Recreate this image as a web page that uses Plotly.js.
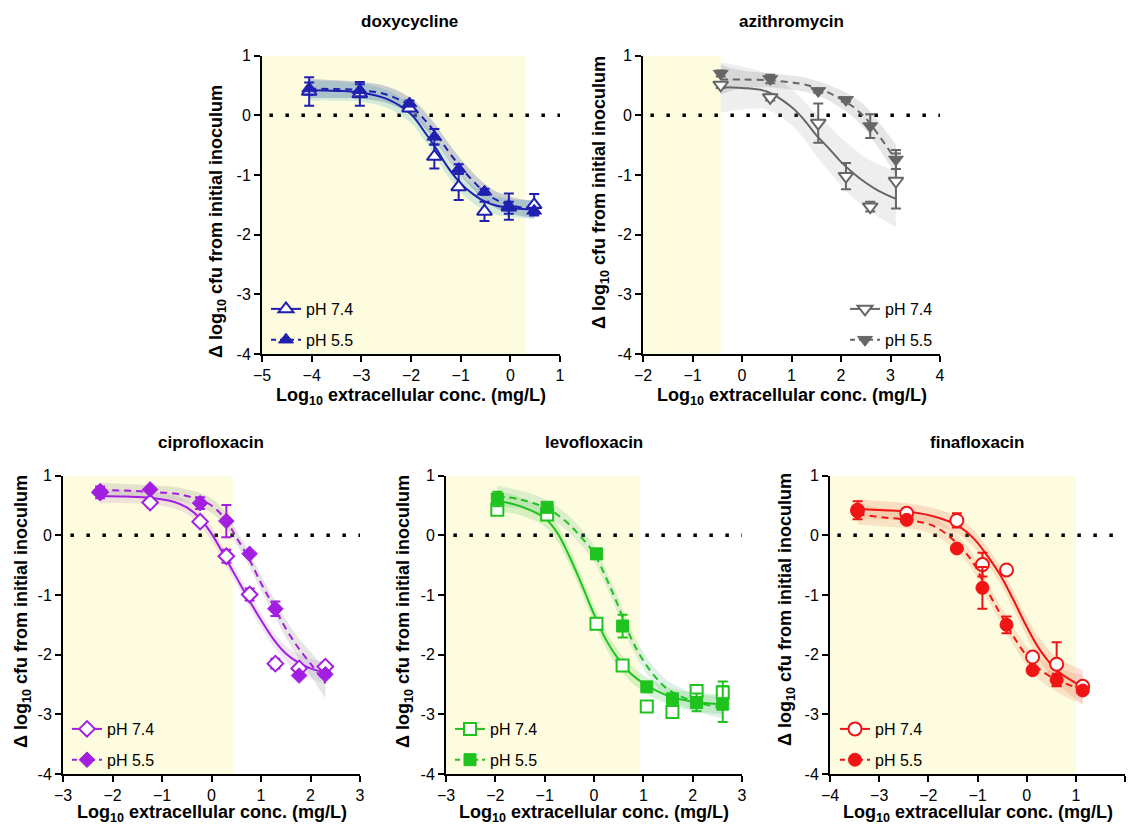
<!DOCTYPE html>
<html>
<head>
<meta charset="utf-8">
<script src="https://cdn.plot.ly/plotly-3.0.1.min.js"></script>
<style>html,body{margin:0;padding:0;background:#fff;}#chart{width:1129px;height:827px;}</style>
</head>
<body>
<div id="chart"></div>
<script>
// ---------------- DATA ----------------
const drugNames = ["doxycycline", "azithromycin", "ciprofloxacin", "levofloxacin", "finafloxacin"];
const seriesNames = ["pH 7.4", "pH 5.5"];

// doxycycline
const doxyConc  = [-4.05, -3.03, -2.03, -1.53, -1.04, -0.52, -0.03, 0.48];
const doxy74    = [0.40, 0.36, 0.12, -0.69, -1.20, -1.61, -1.53, -1.50];
const doxy74Err = [0.24, 0.20, 0.05, 0.20, 0.22, 0.16, 0.22, 0.18];
const doxy55    = [0.45, 0.42, 0.20, -0.36, -0.90, -1.28, -1.55, -1.60];
const doxy55Err = [0.10, 0.10, 0.05, 0.13, 0.08, 0.05, 0.10, 0.05];
const doxyFitX  = [-4.05, -3.5, -3.0, -2.5, -2.0, -1.75, -1.5, -1.25, -1.0, -0.75, -0.5, -0.25, 0, 0.25, 0.48];
const doxyFit74 = [0.42, 0.41, 0.38, 0.28, 0.02, -0.25, -0.55, -0.88, -1.14, -1.32, -1.45, -1.52, -1.55, -1.57, -1.58];
const doxyFit55 = [0.45, 0.44, 0.42, 0.35, 0.15, -0.05, -0.30, -0.60, -0.87, -1.10, -1.30, -1.43, -1.50, -1.55, -1.57];
const doxyCI74  = [0.17, 0.16, 0.15, 0.15, 0.15, 0.15, 0.15, 0.15, 0.15, 0.15, 0.15, 0.15, 0.15, 0.15, 0.16];
const doxyCI55  = [0.16, 0.15, 0.14, 0.14, 0.14, 0.14, 0.14, 0.14, 0.14, 0.14, 0.14, 0.14, 0.14, 0.14, 0.15];

// azithromycin
const aziConc  = [-0.43, 0.57, 1.54, 2.10, 2.59, 3.11];
const azi74    = [0.51, 0.30, -0.13, -1.02, -1.53, -1.10];
const azi74Err = [0.05, 0.05, 0.33, 0.22, 0.08, 0.46];
const azi55    = [0.70, 0.61, 0.41, 0.26, -0.18, -0.74];
const azi55Err = [0.05, 0.07, 0.03, 0.03, 0.20, 0.16];
const aziFitX  = [-0.43, 0, 0.5, 1.0, 1.25, 1.5, 1.75, 2.0, 2.25, 2.5, 2.75, 3.11];
const aziFit74 = [0.47, 0.46, 0.40, 0.14, -0.07, -0.33, -0.55, -0.78, -0.97, -1.13, -1.26, -1.40];
const aziFit55 = [0.60, 0.60, 0.59, 0.55, 0.52, 0.46, 0.38, 0.27, 0.14, -0.05, -0.32, -0.75];
const aziCI74  = [0.42, 0.36, 0.30, 0.30, 0.32, 0.35, 0.38, 0.40, 0.42, 0.42, 0.44, 0.47];
const aziCI55  = [0.25, 0.15, 0.12, 0.12, 0.12, 0.12, 0.13, 0.15, 0.17, 0.20, 0.22, 0.26];

// ciprofloxacin
const ciproConc  = [-2.25, -1.24, -0.23, 0.30, 0.77, 1.29, 1.77, 2.30];
const cipro74    = [0.72, 0.55, 0.23, -0.35, -0.99, -2.15, -2.23, -2.20];
const cipro74Err = [0.10, 0.03, 0.03, 0.11, 0.10, 0.08, 0.05, 0.03];
const cipro55    = [0.74, 0.77, 0.54, 0.24, -0.31, -1.23, -2.35, -2.33];
const cipro55Err = [0.05, 0.03, 0.10, 0.27, 0.03, 0.12, 0.03, 0.05];
const ciproFitX  = [-2.25, -1.75, -1.24, -0.75, -0.5, -0.25, 0, 0.25, 0.5, 0.75, 1.0, 1.25, 1.5, 1.75, 2.0, 2.3];
const ciproFit74 = [0.66, 0.65, 0.63, 0.56, 0.47, 0.30, 0.03, -0.33, -0.70, -1.07, -1.42, -1.74, -1.98, -2.13, -2.23, -2.30];
const ciproFit55 = [0.76, 0.75, 0.73, 0.70, 0.66, 0.60, 0.50, 0.30, -0.03, -0.38, -0.80, -1.18, -1.56, -1.88, -2.15, -2.48];
const ciproCI74  = [0.12, 0.11, 0.11, 0.11, 0.11, 0.12, 0.12, 0.12, 0.12, 0.12, 0.12, 0.12, 0.13, 0.14, 0.16, 0.18];
const ciproCI55  = [0.12, 0.11, 0.11, 0.11, 0.11, 0.12, 0.12, 0.12, 0.12, 0.12, 0.13, 0.14, 0.15, 0.17, 0.20, 0.25];

// levofloxacin
const levoConc  = [-1.96, -0.95, 0.05, 0.58, 1.07, 1.59, 2.08, 2.61];
const levo74    = [0.43, 0.35, -1.48, -2.18, -2.87, -2.96, -2.61, -2.63];
const levo74Err = [0.05, 0.05, 0.03, 0.03, 0.03, 0.03, 0.10, 0.18];
const levo55    = [0.61, 0.47, -0.31, -1.52, -2.54, -2.74, -2.80, -2.83];
const levo55Err = [0.12, 0.05, 0.03, 0.19, 0.03, 0.05, 0.15, 0.30];
const levoFitX  = [-1.96, -1.5, -1.0, -0.75, -0.5, -0.25, 0, 0.25, 0.5, 0.75, 1.0, 1.25, 1.5, 2.0, 2.61];
const levoFit74 = [0.58, 0.49, 0.29, 0.05, -0.35, -0.82, -1.32, -1.76, -2.08, -2.32, -2.48, -2.60, -2.69, -2.79, -2.83];
const levoFit55 = [0.66, 0.60, 0.47, 0.35, 0.18, -0.04, -0.30, -0.72, -1.20, -1.72, -2.10, -2.38, -2.58, -2.78, -2.89];
const levoCI74  = [0.17, 0.15, 0.14, 0.14, 0.14, 0.14, 0.14, 0.14, 0.14, 0.14, 0.14, 0.14, 0.14, 0.15, 0.17];
const levoCI55  = [0.17, 0.15, 0.14, 0.14, 0.14, 0.14, 0.14, 0.14, 0.14, 0.14, 0.14, 0.14, 0.14, 0.15, 0.18];

// finafloxacin
const finaConc  = [-3.44, -2.44, -1.42, -0.90, -0.41, 0.12, 0.61, 1.14];
const fina74    = [0.42, 0.37, 0.25, -0.49, -0.58, -2.04, -2.16, -2.53];
const fina74Err = [0.15, 0.05, 0.12, 0.20, 0.03, 0.03, 0.37, 0.03];
const fina55    = [0.40, 0.26, -0.22, -0.88, -1.50, -2.26, -2.42, -2.60];
const fina55Err = [0.05, 0.03, 0.03, 0.35, 0.14, 0.03, 0.10, 0.03];
const finaFitX  = [-3.44, -2.9, -2.44, -1.9, -1.42, -1.08, -0.81, -0.54, -0.27, 0, 0.27, 0.61, 1.14];
const finaFit74 = [0.44, 0.42, 0.40, 0.32, 0.17, -0.05, -0.33, -0.66, -1.08, -1.53, -1.92, -2.26, -2.54];
const finaFit55 = [0.35, 0.30, 0.26, 0.16, -0.13, -0.47, -0.91, -1.31, -1.69, -2.02, -2.25, -2.42, -2.59];
const finaCI74  = [0.17, 0.15, 0.14, 0.14, 0.14, 0.14, 0.14, 0.14, 0.15, 0.16, 0.18, 0.22, 0.28];
const finaCI55  = [0.17, 0.15, 0.14, 0.14, 0.14, 0.14, 0.14, 0.14, 0.15, 0.16, 0.18, 0.20, 0.25];

// shaded (yellow) upper bound on each x axis
const shadeEnd = [0.31, -0.43, 0.43, 0.93, 1.0];
const yTicks = [-4, -3, -2, -1, 0, 1];

// ---------------- STYLE / LAYOUT ----------------
const W = 1129, H = 827;
const FONT = 'Arial, "Liberation Sans", sans-serif';
const px = v => v / W, py = v => 1 - v / H;

const panels = [
  {conc: doxyConc, y74: doxy74, e74: doxy74Err, y55: doxy55, e55: doxy55Err, fx: doxyFitX, f74: doxyFit74, f55: doxyFit55, c74: doxyCI74, c55: doxyCI55,
   color: '#1f1fb0', band74: 'rgba(120,200,205,0.32)', band55: 'rgba(80,100,170,0.30)', sym: 'triangle-up', msize: 13,
   xr: [-5, 1], dx: [262, 560], dy: [55.7, 354], leg: [266, 292], yt: [217, 222], title: [409, 22], xt: 397},
  {conc: aziConc, y74: azi74, e74: azi74Err, y55: azi55, e55: azi55Err, fx: aziFitX, f74: aziFit74, f55: aziFit55, c74: aziCI74, c55: aziCI55,
   color: '#666666', band74: 'rgba(160,160,160,0.18)', band55: 'rgba(140,140,140,0.22)', sym: 'triangle-down', msize: 13,
   xr: [-2, 4], dx: [643, 940], dy: [55.7, 354], leg: [845, 292], yt: [600, 193], title: [791, 22], xt: 397},
  {conc: ciproConc, y74: cipro74, e74: cipro74Err, y55: cipro55, e55: cipro55Err, fx: ciproFitX, f74: ciproFit74, f55: ciproFit55, c74: ciproCI74, c55: ciproCI55,
   color: '#a21ee0', band74: 'rgba(190,140,200,0.22)', band55: 'rgba(150,150,150,0.25)', sym: 'diamond', msize: 12,
   xr: [-3, 3], dx: [63, 360], dy: [475.7, 774], leg: [67, 712], yt: [22, 612], title: [211, 442], xt: 813},
  {conc: levoConc, y74: levo74, e74: levo74Err, y55: levo55, e55: levo55Err, fx: levoFitX, f74: levoFit74, f55: levoFit55, c74: levoCI74, c55: levoCI55,
   color: '#1ec31e', band74: 'rgba(60,200,60,0.20)', band55: 'rgba(110,190,140,0.22)', sym: 'square', msize: 12,
   xr: [-3, 3], dx: [446, 742], dy: [475.7, 774], leg: [450, 712], yt: [404, 612], title: [594, 442], xt: 813},
  {conc: finaConc, y74: fina74, e74: fina74Err, y55: fina55, e55: fina55Err, fx: finaFitX, f74: finaFit74, f55: finaFit55, c74: finaCI74, c55: finaCI55,
   color: '#f01414', band74: 'rgba(235,120,90,0.22)', band55: 'rgba(235,140,110,0.22)', sym: 'circle', msize: 13,
   xr: [-4, 2], dx: [830, 1125], dy: [475.7, 774], leg: [835, 712], yt: [786, 610], title: [977, 442], xt: 813}
];

const traces = [];
const layout = {
  width: W, height: H,
  margin: {l: 0, r: 0, t: 0, b: 0},
  paper_bgcolor: '#ffffff', plot_bgcolor: 'rgba(0,0,0,0)',
  font: {family: FONT, size: 16, color: '#000'},
  showlegend: true,
  shapes: [], annotations: []
};

panels.forEach((p, i) => {
  const n = i === 0 ? '' : String(i + 1);
  const xa = 'x' + n, ya = 'y' + n;
  const legName = 'legend' + n;
  const lw = 2;

  // confidence bands
  const addBand = (mid, ci, col) => {
    traces.push({x: p.fx, y: mid.map((v, k) => v - ci[k]), xaxis: xa, yaxis: ya, mode: 'lines',
      line: {width: 0, shape: 'spline', color: col}, showlegend: false, hoverinfo: 'skip'});
    traces.push({x: p.fx, y: mid.map((v, k) => v + ci[k]), xaxis: xa, yaxis: ya, mode: 'lines', fill: 'tonexty',
      fillcolor: col, line: {width: 0, shape: 'spline', color: col}, showlegend: false, hoverinfo: 'skip'});
  };
  addBand(p.f74, p.c74, p.band74);
  addBand(p.f55, p.c55, p.band55);

  // fitted curves
  traces.push({x: p.fx, y: p.f74, xaxis: xa, yaxis: ya, mode: 'lines',
    line: {color: p.color, width: lw, shape: 'spline'}, showlegend: false});
  traces.push({x: p.fx, y: p.f55, xaxis: xa, yaxis: ya, mode: 'lines',
    line: {color: p.color, width: lw, shape: 'spline', dash: '7px,5px'}, showlegend: false});

  // data points with error bars
  traces.push({x: p.conc, y: p.y74, xaxis: xa, yaxis: ya, mode: 'markers', showlegend: false,
    marker: {symbol: p.sym, size: p.msize, color: '#ffffff', line: {color: p.color, width: 2}},
    error_y: {type: 'data', array: p.e74, visible: true, color: p.color, thickness: 2, width: 5}});
  traces.push({x: p.conc, y: p.y55, xaxis: xa, yaxis: ya, mode: 'markers', showlegend: false,
    marker: {symbol: p.sym, size: p.msize, color: p.color, line: {color: p.color, width: 1}},
    error_y: {type: 'data', array: p.e55, visible: true, color: p.color, thickness: 2, width: 5}});

  // legend entries
  traces.push({x: [null], y: [null], xaxis: xa, yaxis: ya, mode: 'lines+markers', name: seriesNames[0],
    legend: legName, legendgroup: 'a' + i,
    line: {color: p.color, width: lw}, marker: {symbol: p.sym, size: p.msize, color: '#ffffff', line: {color: p.color, width: 2}}});
  traces.push({x: [null], y: [null], xaxis: xa, yaxis: ya, mode: 'lines+markers', name: seriesNames[1],
    legend: legName, legendgroup: 'b' + i,
    line: {color: p.color, width: lw, dash: '5px,4px'}, marker: {symbol: p.sym, size: p.msize, color: p.color, line: {color: p.color, width: 1}}});

  layout[legName] = {x: px(p.leg[0]), y: py(p.leg[1]), xanchor: 'left', yanchor: 'top',
    bgcolor: 'rgba(0,0,0,0)', borderwidth: 0, font: {family: FONT, size: 16, color: '#000'},
    traceorder: 'grouped', tracegroupgap: 7, itemclick: false};

  const axCommon = {showgrid: false, zeroline: false, showline: true, linecolor: '#000', linewidth: 2,
    ticks: 'outside', ticklen: 6, tickwidth: 2, tickcolor: '#000', tickfont: {family: FONT, size: 16, color: '#000'},
    fixedrange: true};
  layout['xaxis' + n] = Object.assign({}, axCommon, {domain: [px(p.dx[0]), px(p.dx[1])], range: p.xr,
    tickmode: 'linear', tick0: p.xr[0], dtick: 1, anchor: ya});
  layout['yaxis' + n] = Object.assign({}, axCommon, {domain: [py(p.dy[1]), py(p.dy[0])], range: [-4, 1],
    tickmode: 'array', tickvals: yTicks, ticktext: yTicks.map(String), anchor: xa});

  // yellow shaded region
  layout.shapes.push({type: 'rect', xref: xa, yref: ya, x0: p.xr[0], x1: shadeEnd[i], y0: -4, y1: 1,
    fillcolor: '#fdfcde', line: {width: 0}, layer: 'below'});
  // dotted zero line
  layout.shapes.push({type: 'line', xref: xa, yref: ya, x0: p.xr[0] + 0.15, x1: p.xr[1], y0: 0, y1: 0,
    line: {color: '#000', width: 3.5, dash: '3.5px,12.5px'}, layer: 'below'});

  // titles
  layout.annotations.push({xref: 'paper', yref: 'paper', x: px(p.title[0]), y: py(p.title[1]), xanchor: 'center', yanchor: 'middle',
    text: '<b>' + drugNames[i] + '</b>', showarrow: false, font: {family: FONT, size: 17, color: '#000'}});
  layout.annotations.push({xref: 'paper', yref: 'paper', x: px(p.yt[0]), y: py(p.yt[1]), xanchor: 'center', yanchor: 'middle',
    textangle: -90, text: '<b>\u0394 log<sub>10</sub> cfu from initial inoculum</b>', showarrow: false,
    font: {family: FONT, size: 18, color: '#000'}});
  const xMid = (p.dx[0] + p.dx[1]) / 2;
  layout.annotations.push({xref: 'paper', yref: 'paper', x: px(xMid), y: py(p.xt), xanchor: 'center', yanchor: 'middle',
    text: '<b>Log<sub>10</sub> extracellular conc. (mg/L)</b>', showarrow: false,
    font: {family: FONT, size: 18, color: '#000'}});
});

Plotly.newPlot('chart', traces, layout, {staticPlot: true, displayModeBar: false});
</script>
</body>
</html>
